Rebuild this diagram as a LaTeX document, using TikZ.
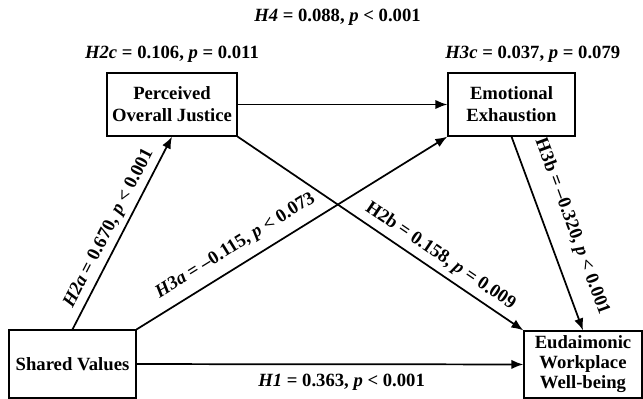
\documentclass[tikz,border=0pt]{standalone}
\usepackage{fontspec}
\setmainfont{Liberation Serif}
\usepackage{tikz}
\usetikzlibrary{arrows.meta,positioning}

\begin{document}
\begin{tikzpicture}[
    x=0.75pt, y=-0.75pt,
    font=\fontsize{14}{16.5}\selectfont\bfseries,
    var/.style={draw, line width=0.9pt, align=center, inner sep=1pt},
    coef/.style={inner sep=1pt},
    arr/.style={-{Latex[length=9pt,width=7pt]}, line width=1.3pt}
]
\useasboundingbox (0,0) rectangle (643,399);
\node[var, minimum width=97.5pt, minimum height=47.25pt] (pj) at (172,104.5) {Perceived\\Overall Justice};
\node[var, minimum width=95.25pt, minimum height=47.25pt] (ee) at (511.5,104.5) {Emotional\\Exhaustion};
\node[var, minimum width=95.25pt, minimum height=51pt] (sv) at (72.5,364) {Shared Values};
\node[var, minimum width=88.5pt, minimum height=50.25pt, font=\fontsize{14}{15}\selectfont\bfseries] (eww) at (583,364.5) {Eudaimonic\\Workplace\\Well-being};
% effects written above the boxes
\node[coef, above=6.2pt of pj] (h2c) {\textit{H2c} = 0.106, \textit{p} = 0.011};
\node[coef, above=6.2pt of ee, xshift=16pt] (h3c) {\textit{H3c} = 0.037, \textit{p} = 0.079};
\node[coef, anchor=base] (h4) at (337.5,22) {\textit{H4} = 0.088, \textit{p} < 0.001};
% paths
\draw[arr] (pj) -- (ee);
\draw[arr] (sv.north) -- node[coef, sloped, pos=0.49, above=2.5pt] {\textit{H2a} = 0.670, \textit{p} < 0.001} (pj.south);
\draw[arr] (sv.north east) -- node[coef, sloped, pos=0.35, above=6.2pt] {\textit{H3a} = –0.115, \textit{p} < 0.073} (ee.south west);
\draw[arr] (pj.south east) -- node[coef, sloped, pos=0.68, above=3.2pt] {H2b = 0.158, \textit{p} = 0.009} (eww.north west);
\draw[arr] (ee.south) -- node[coef, sloped, pos=0.51, above=11pt] {H3b = –0.320, \textit{p} < 0.001} (eww.north);
\draw[arr] (sv) -- node[coef, pos=0.53, below=6pt] {\textit{H1} = 0.363, \textit{p} < 0.001} (eww);
\end{tikzpicture}
\end{document}
